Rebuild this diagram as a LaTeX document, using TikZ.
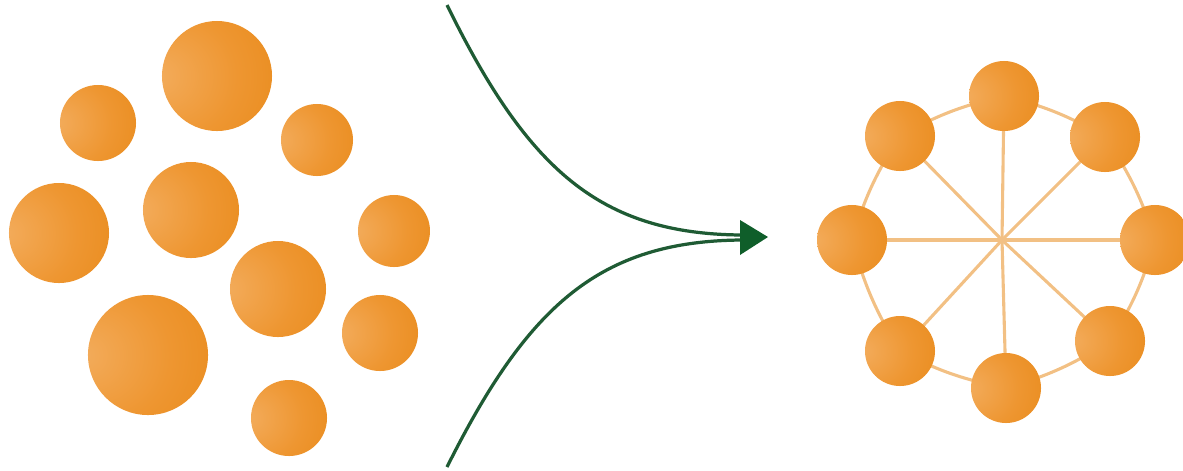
\documentclass[tikz,border=0pt]{standalone}
\definecolor{oL}{HTML}{F3AC5C}
\definecolor{oM}{HTML}{EE9631}
\definecolor{oD}{HTML}{E5840F}
\definecolor{ringc}{HTML}{F2C084}
\definecolor{arrg}{HTML}{1F5B34}
\definecolor{tipg}{HTML}{0F5E2A}
\pgfdeclareradialshading{orb}{\pgfpoint{-28bp}{0bp}}{color(0bp)=(oL); color(28bp)=(oM); color(62bp)=(oD); color(85bp)=(oD)}
\tikzset{
  ball/.style={circle, inner sep=0pt, draw=none, shading=orb, minimum size=#1*0.05cm},
  ringline/.style={draw=ringc, line width=2.2pt},
  flow/.style={draw=arrg, line width=2.3pt},
}
\begin{document}
\begin{tikzpicture}[x=0.025cm, y=-0.025cm]
\useasboundingbox (0,0) rectangle (1183,470);
% left cluster
\node[ball=55] (a1) at (217,76) {};
\node[ball=38] (a2) at (98,123) {};
\node[ball=36] (a3) at (317,140) {};
\node[ball=50] (a4) at (59,233) {};
\node[ball=48] (a5) at (191,210) {};
\node[ball=36] (a6) at (394,231) {};
\node[ball=48] (a7) at (278,289) {};
\node[ball=60] (a8) at (148,355) {};
\node[ball=38] (a9) at (380,333) {};
\node[ball=38] (a10) at (289,418) {};
% arrow
\coordinate (u0) at (447,5);
\coordinate (l0) at (447,467);
\coordinate (ue) at (742,235);
\coordinate (le) at (742,240);
\draw[flow] (u0) .. controls (528,170) and (600,234) .. (ue);
\draw[flow] (l0) .. controls (528,305) and (600,241) .. (le);
\coordinate (tip) at (768,237);
\fill[tipg] (740,220) -- (tip) -- (740,255) -- cycle;
% ring
\coordinate (c) at (1002,240);
\coordinate (s1) at (1004,96);
\coordinate (s2) at (1105,137);
\coordinate (s3) at (1155,240);
\coordinate (s4) at (1110,341);
\coordinate (s5) at (1006,388);
\coordinate (s6) at (900,351);
\coordinate (s7) at (852,240);
\coordinate (s8) at (900,136);
\draw[ringline] (s1) to[bend left=8] (s2) to[bend left=8] (s3) to[bend left=8] (s4) to[bend left=8] (s5) to[bend left=8] (s6) to[bend left=8] (s7) to[bend left=8] (s8) to[bend left=8] (s1);
\draw[ringline] (s1) -- (c) -- (s5);
\draw[ringline] (s3) -- (c) -- (s7);
\draw[ringline] (s2) -- (c) -- (s6);
\draw[ringline] (s4) -- (c) -- (s8);
\node[ball=35] (b1) at (s1) {};
\node[ball=35] (b2) at (s2) {};
\node[ball=35] (b3) at (s3) {};
\node[ball=35] (b4) at (s4) {};
\node[ball=35] (b5) at (s5) {};
\node[ball=35] (b6) at (s6) {};
\node[ball=35] (b7) at (s7) {};
\node[ball=35] (b8) at (s8) {};
\end{tikzpicture}
\end{document}
